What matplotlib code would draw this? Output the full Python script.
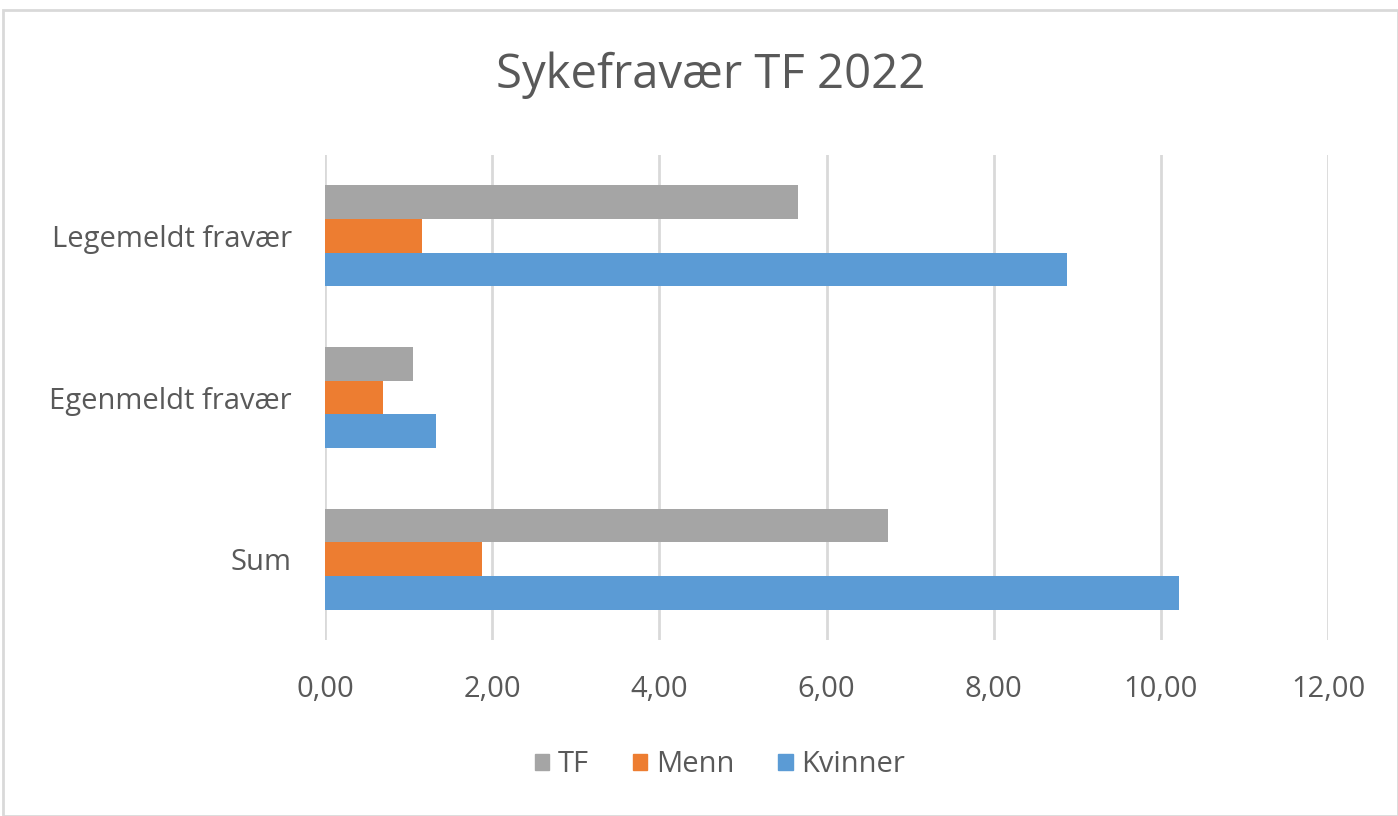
import matplotlib.pyplot as plt
import matplotlib.patches as patches
import numpy as np

# Data
categories = ['Sum', 'Egenmeldt fravær', 'Legemeldt fravær']
series_names = ['TF', 'Menn', 'Kvinner']
tf_values = [6.73, 1.05, 5.66]
menn_values = [1.88, 0.69, 1.16]
kvinner_values = [10.22, 1.33, 8.88]
x_ticks = [0, 2, 4, 6, 8, 10, 12]
x_tick_labels = ['0,00', '2,00', '4,00', '6,00', '8,00', '10,00', '12,00']

colors = ['#A5A5A5', '#ED7D31', '#5B9BD5']
text_color = '#595959'
grid_color = '#D9D9D9'

plt.rcParams['font.family'] = ['Open Sans', 'DejaVu Sans']

fig = plt.figure(figsize=(13.98, 8.16), dpi=100)
ax = fig.add_axes([325 / 1398, 1 - 640 / 816, (1328 - 325) / 1398, (640 - 155) / 816])

# Outer chart border
fig.patches.append(patches.Rectangle((3 / 1398, 0), 1 - 3 / 1398, 1 - 10 / 816,
                                     transform=fig.transFigure, fill=False,
                                     edgecolor=grid_color, linewidth=2))

y = np.arange(len(categories))
h = 0.208
all_values = [tf_values, menn_values, kvinner_values]
offsets = [h, 0, -h]
for vals, off, color, name in zip(all_values, offsets, colors, series_names):
    ax.barh(y + off, vals, height=h, color=color, label=name, zorder=3)

ax.set_xlim(0, 12)
ax.set_ylim(-0.5, 2.5)
ax.set_xticks(x_ticks)
ax.set_xticklabels(x_tick_labels)
ax.set_yticks(y)
ax.set_yticklabels(categories)
ax.tick_params(axis='both', length=0, labelsize=21, colors=text_color)
ax.tick_params(axis='x', pad=25)
ax.tick_params(axis='y', pad=24)
ax.xaxis.grid(True, color=grid_color, linewidth=2, zorder=0)
for s in ax.spines.values():
    s.set_visible(False)

fig.text(711 / 1398, 1 - 75 / 816, 'Sykefravær TF 2022', ha='center', va='center',
         fontsize=34, color=text_color)

handles = [patches.Patch(color=c) for c in colors]
fig.legend(handles, series_names, loc='center', bbox_to_anchor=(720 / 1398, 1 - 765 / 816),
           ncol=3, frameon=False, fontsize=21, labelcolor=text_color,
           handlelength=0.5, handleheight=0.5, handletextpad=0.3, columnspacing=1.5)

fig.savefig('out.png', dpi=100)
